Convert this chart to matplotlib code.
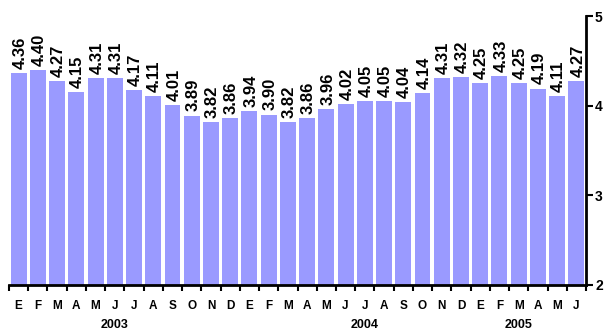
import matplotlib
matplotlib.use("Agg")
import matplotlib.pyplot as plt

months = ["E", "F", "M", "A", "M", "J", "J", "A", "S", "O", "N", "D",
          "E", "F", "M", "A", "M", "J", "J", "A", "S", "O", "N", "D",
          "E", "F", "M", "A", "M", "J"]
values = [4.36, 4.40, 4.27, 4.15, 4.31, 4.31, 4.17, 4.11, 4.01, 3.89, 3.82, 3.86,
          3.94, 3.90, 3.82, 3.86, 3.96, 4.02, 4.05, 4.05, 4.04, 4.14, 4.31, 4.32,
          4.25, 4.33, 4.25, 4.19, 4.11, 4.27]
years = ["2003", "2004", "2005"]
year_pos = [5, 18, 26]
yticks = [2, 3, 4, 5]

plt.rcParams['font.family'] = ['Liberation Sans', 'DejaVu Sans']

fig = plt.figure(figsize=(6.05, 3.35), dpi=100)
ax = fig.add_axes([9/605, 1-285/335, (586-9)/605, (285-16)/335])

x = list(range(len(values)))
ax.bar(x, values, width=0.83, color="#9A9AFF", edgecolor="none")

for xi, v in zip(x, values):
    ax.annotate(f"{v:.2f}", (xi, v), xytext=(1, 3), textcoords="offset points",
                rotation=90, ha="center", va="bottom", fontsize=12,
                fontweight="bold")

ax.set_xlim(-0.5, len(values) - 0.5)
ax.set_ylim(2, 5)

for s in ["top", "left"]:
    ax.spines[s].set_visible(False)
ax.spines["right"].set_linewidth(2)
ax.spines["bottom"].set_linewidth(2)

ax.yaxis.tick_right()
ax.set_yticks(yticks)
ax.set_yticklabels([str(t) for t in yticks], fontsize=10, fontweight="bold")
ax.tick_params(axis="y", direction="out", length=5, width=1.5, pad=1.5)

ax.set_xticks([i - 0.5 for i in range(len(values) + 1)])
ax.set_xticklabels([])
ax.tick_params(axis="x", direction="out", length=4, width=1.5)

for xi, m in zip(x, months):
    ax.text(xi, -0.077, m, transform=ax.get_xaxis_transform(), ha="center",
            va="center", fontsize=8.5, fontweight="bold")
for yp, yr in zip(year_pos, years):
    ax.text(yp, -0.15, yr, transform=ax.get_xaxis_transform(), ha="center",
            va="center", fontsize=9, fontweight="bold")

fig.savefig("out.png", dpi=100)
